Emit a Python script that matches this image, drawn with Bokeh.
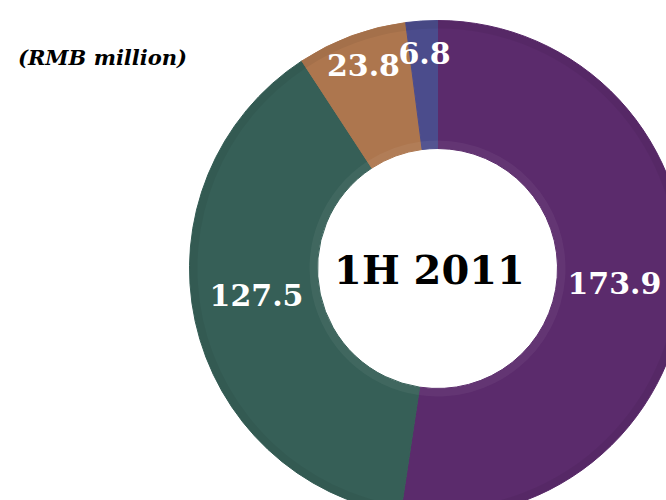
import math
from bokeh.plotting import figure
from bokeh.models import Range1d, ColumnDataSource
from bokeh.core.properties import value
from bokeh.embed import file_html
from bokeh.resources import INLINE

# ---- data ----
labels = ["173.9", "127.5", "23.8", "6.8"]
values = [173.9, 127.5, 23.8, 6.8]
colors = ["#5b2b6c", "#365f57", "#ad764e", "#4b4c8c"]
center_text = "1H 2011"
unit_text = "(RMB million)"

# ---- layout ----
W, H = 666, 500
cx, cy = 437, 232          # donut centre (data units = px, y up)
r_in, r_out = 120, 248
# label placement: (radius, angle in degrees) around centre
label_polar = [(177.6, -4.84), (182.9, 188.3), (216.5, 110.0), (215.9, 93.45)]

total = sum(values)
starts, ends = [], []
acc = 0.0
for v in values:
    starts.append(math.pi / 2 - acc / total * 2 * math.pi)
    acc += v
    ends.append(math.pi / 2 - acc / total * 2 * math.pi)

src = ColumnDataSource(dict(start=starts, end=ends, color=colors))

p = figure(width=W, height=H, x_range=Range1d(0, W), y_range=Range1d(0, H),
           output_backend="svg", toolbar_location=None, min_border=0)
p.axis.visible = False
p.grid.visible = False
p.outline_line_color = None
p.background_fill_color = "white"

p.annular_wedge(x=cx, y=cy, inner_radius=r_in, outer_radius=r_out,
                start_angle="start", end_angle="end", direction="clock",
                fill_color="color", line_color="color", line_width=1, source=src)
# subtle bevel highlights
p.annular_wedge(x=cx, y=cy, inner_radius=r_in, outer_radius=r_in + 8,
                start_angle="start", end_angle="end", direction="clock",
                fill_color="white", fill_alpha=0.05, line_color=None, source=src)
p.annular_wedge(x=cx, y=cy, inner_radius=r_out - 8, outer_radius=r_out,
                start_angle="start", end_angle="end", direction="clock",
                fill_color="black", fill_alpha=0.05, line_color=None, source=src)

lx = [cx + r * math.cos(math.radians(a)) for r, a in label_polar]
ly = [cy + r * math.sin(math.radians(a)) for r, a in label_polar]
p.text(x=lx, y=ly, text=labels, text_color="white",
       text_font=value("DejaVu Serif"), text_font_style="bold",
       text_font_size="30px", text_align="center", text_baseline="middle")

p.text(x=[429], y=[H - 269], text=[center_text], text_color="black",
       text_font=value("DejaVu Serif"), text_font_style="bold",
       text_font_size="40px", text_align="center", text_baseline="middle")

p.text(x=[102], y=[H - 57], text=[unit_text], text_color="black",
       text_font=value("DejaVu Serif"), text_font_style="bold italic",
       text_font_size="21px", text_align="center", text_baseline="middle")

open("out.html", "w").write(file_html(p, INLINE))
